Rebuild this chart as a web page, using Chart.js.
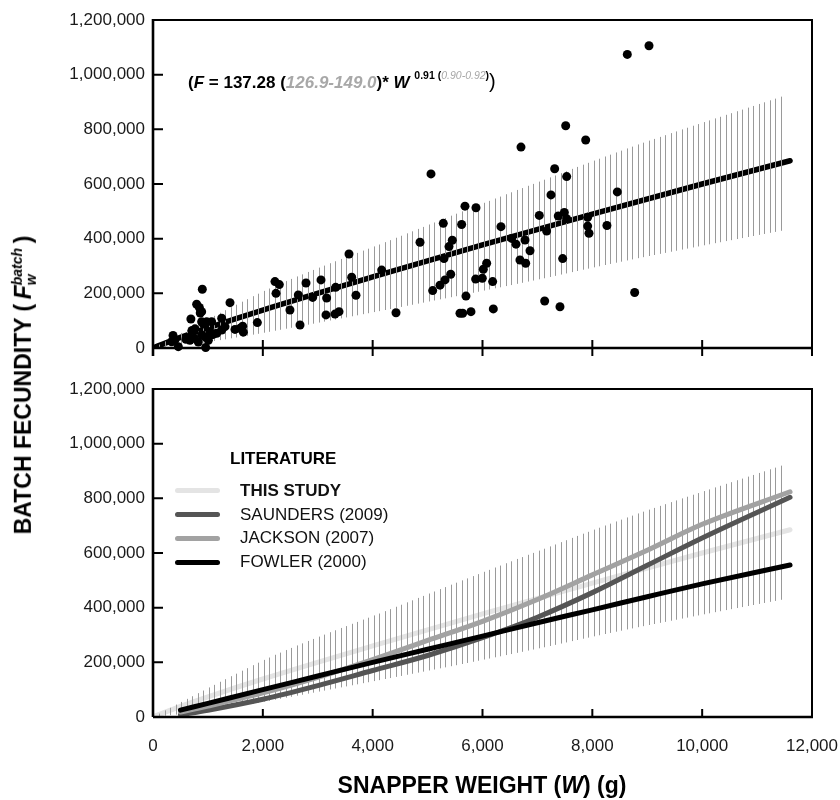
<!DOCTYPE html>
<html>
<head>
<meta charset="utf-8">
<script src="https://cdn.jsdelivr.net/npm/chart.js@4.4.1/dist/chart.umd.min.js"></script>
<style>
body { margin: 0; background: #fff; width: 840px; height: 800px; position: relative; overflow: hidden;
       font-family: 'Liberation Sans', Arial, sans-serif; color: #000; }
canvas { position: absolute; left: 0; }
#top { top: 0; }
#bottom { top: 362px; }
.txt { position: absolute; white-space: nowrap; }
#eq { left: 188px; top: 70px; font-weight: bold; font-size: 17px; line-height: 22px; }
#eq .ci { color: #a8a8a8; }
#eq .pw { font-size: 10.5px; position: relative; top: -9px; }
#eq .ci2 { color: #a8a8a8; font-weight: normal; }
#eq .cl { font-size: 20px; font-weight: normal; }
#ytitle { left: 24px; top: 385px; transform: translate(-50%, -50%) rotate(-90deg);
          font-weight: bold; font-size: 23px; line-height: 30px; }
#ytitle sub, #ytitle sup { font-size: 14px; }
#ytitle sup { margin-left: -11px; }
#xtitle { left: 282px; width: 400px; text-align: center; top: 772px;
          font-weight: bold; font-size: 23px; line-height: 26px; }
.lg { left: 240px; font-size: 17px; line-height: 20px; color: #111; }
.sw { position: absolute; left: 175px; width: 45px; height: 5px; border-radius: 3px; }
</style>
</head>
<body>
<canvas id="top" width="840" height="362"></canvas>
<canvas id="bottom" width="840" height="438"></canvas>

<div id="eq" class="txt">(<i>F</i> = 137.28 (<i class="ci">126.9-149.0</i>)* <i>W</i> <span class="pw">0.91 (<i class="ci2">0.90-0.92</i>)</span><span class="cl">)</span></div>
<div id="ytitle" class="txt">BATCH FECUNDITY (&#8201;<i>F</i><sub><i>w</i></sub><sup><i>batch</i></sup>&#8201;)</div>
<div id="xtitle" class="txt">SNAPPER WEIGHT (<i>W</i>) (g)</div>

<div class="txt" style="left:230px; top:449px; font-weight:bold; font-size:17px; line-height:20px;">LITERATURE</div>
<div class="sw" style="top:488px; background:#e4e4e4;"></div>
<div class="sw" style="top:512px; background:#555;"></div>
<div class="sw" style="top:536px; background:#a2a2a2;"></div>
<div class="sw" style="top:560px; background:#000;"></div>
<div class="txt lg" style="top:481px; font-weight:bold;">THIS STUDY</div>
<div class="txt lg" style="top:505px;">SAUNDERS (2009)</div>
<div class="txt lg" style="top:528px;">JACKSON (2007)</div>
<div class="txt lg" style="top:552px;">FOWLER (2000)</div>

<script>
// axis ticks
const xTicks = [0, 2000, 4000, 6000, 8000, 10000, 12000];
const yTicks = [0, 200000, 400000, 600000, 800000, 1000000, 1200000];

// individual fish: weight (g) and batch fecundity
const sampleWeight = [
    340, 365, 400, 461, 600, 640, 674, 690, 710, 752, 765, 795, 825, 844, 860, 886, 898, 886, 886, 917,
    947, 959, 977, 1008, 1040, 1068, 1068, 1098, 1160, 1251, 1251, 1311, 1402, 1493, 1584, 1645, 1633, 1900,
    2221, 2300, 2240, 2494, 2677, 2646, 2786, 2907, 3059, 3162, 3150, 3314, 3387, 3326, 3569, 3618, 3696,
    4164, 4425, 4862, 5062, 5093, 5226, 5317, 5421, 5299, 5286, 5450, 5390, 5590, 5639, 5790, 5681, 5699,
    5620, 5881, 5875, 5996, 6015, 6076, 6185, 6197, 6336, 6531, 6610, 6682, 6701, 6774, 6786, 6865, 7034,
    7132, 7168, 7247, 7314, 7380, 7411, 7460, 7490, 7515, 7532, 7533, 7879, 7915, 7915, 7939, 8266, 8455,
    8637, 8771, 9032
];
const sampleFecundity = [
    23000, 46000, 30000, 5000, 32000, 38000, 28000, 106000, 64000, 36000, 70000, 160000, 22000, 148000, 128000, 133000, 215000, 96000, 48000, 88000,
    41000, 2000, 96000, 28000, 60000, 96000, 48000, 50000, 54000, 66000, 109000, 78000, 166000, 68000, 72000, 58000, 80000, 93000,
    243000, 232000, 200000, 139000, 84000, 194000, 238000, 185000, 249000, 183000, 121000, 124000, 133000, 222000, 344000, 259000, 193000,
    285000, 129000, 387000, 637000, 210000, 230000, 249000, 270000, 327000, 456000, 394000, 371000, 127000, 127000, 133000, 519000, 190000,
    452000, 513000, 252000, 255000, 288000, 310000, 243000, 143000, 444000, 401000, 380000, 322000, 735000, 395000, 310000, 356000, 485000,
    172000, 428000, 560000, 656000, 483000, 151000, 327000, 496000, 813000, 473000, 627000, 761000, 478000, 446000, 420000, 448000, 571000,
    1074000, 203000, 1106000
];

// fitted relationship for this study and its interval
const studyWeight = [0, 500, 1000, 2000, 4000, 6000, 8000, 10000, 11600];
const studyFecundity = [0, 39000, 74000, 139000, 260000, 377000, 490000, 600000, 685000];
const bandWeight = [0, 1000, 2200, 4400, 6600, 8900, 11520];
const bandUpper = [0, 105000, 225000, 401000, 575000, 749000, 925000];
const bandLower = [0, 22000, 62000, 145000, 233000, 331000, 432000];

// published relationships
const litWeight = [500, 1000, 2000, 3000, 4000, 5000, 6000, 7000, 8000, 9000, 10000, 11600];
const saunders = [8000, 25000, 65000, 115000, 170000, 225000, 290000, 365000, 455000, 555000, 655000, 804000];
const jackson = [18000, 40000, 88000, 145000, 210000, 280000, 350000, 430000, 520000, 610000, 705000, 824000];
const fowler = [25000, 50000, 100000, 150000, 200000, 248000, 296000, 345000, 392000, 440000, 487000, 556000];

const pts = (xs, ys) => xs.map((x, i) => ({ x: x, y: ys[i] }));

Chart.defaults.font.family = "'Liberation Sans', Arial, sans-serif";
Chart.defaults.font.size = 17;
Chart.defaults.color = '#1a1a1a';

function hatch(canvasId) {
    const tile = document.createElement('canvas');
    tile.width = 11;
    tile.height = 4;
    const g = tile.getContext('2d');
    g.fillStyle = '#9a9a9a';
    g.fillRect(0, 0, 1, 4);
    g.fillRect(5, 0, 1, 4);
    return document.getElementById(canvasId).getContext('2d').createPattern(tile, 'repeat');
}

// frame with inward ticks
const framePlugin = {
    id: 'frame',
    afterDraw(chart, args, opts) {
        const { ctx, chartArea: a, scales: { x, y } } = chart;
        const below = opts.below || 0;
        ctx.save();
        ctx.strokeStyle = '#000';
        ctx.lineWidth = 2;
        ctx.beginPath();
        ctx.moveTo(a.left, a.top);
        ctx.lineTo(a.right, a.top);
        ctx.lineTo(a.right, a.bottom + below);
        ctx.stroke();
        ctx.lineWidth = 2.6;
        ctx.beginPath();
        ctx.moveTo(a.left, a.top - 1);
        ctx.lineTo(a.left, a.bottom + below);
        ctx.moveTo(a.left, a.bottom);
        ctx.lineTo(a.right + 1, a.bottom);
        ctx.stroke();
        ctx.lineWidth = 2;
        ctx.beginPath();
        yTicks.slice(1, -1).forEach(v => {
            const py = y.getPixelForValue(v);
            ctx.moveTo(a.left, py);
            ctx.lineTo(a.left + 10, py);
        });
        xTicks.slice(1, -1).forEach(v => {
            const px = x.getPixelForValue(v);
            ctx.moveTo(px, a.bottom - 8);
            ctx.lineTo(px, a.bottom + below);
        });
        ctx.stroke();
        ctx.restore();
    }
};

function scales(showX, xHeight) {
    return {
        x: {
            type: 'linear', min: 0, max: 12000,
            grid: { display: false, drawTicks: false },
            border: { display: false },
            afterBuildTicks: s => { s.ticks = xTicks.map(v => ({ value: v })); },
            ticks: { display: showX, padding: 19, maxRotation: 0, autoSkip: false,
                     callback: v => v.toLocaleString('en-US') },
            afterFit: s => { s.height = xHeight; s.paddingLeft = 0; s.paddingRight = 0; }
        },
        y: {
            min: 0, max: 1200000,
            grid: { display: false, drawTicks: false },
            border: { display: false },
            afterBuildTicks: s => { s.ticks = yTicks.map(v => ({ value: v })); },
            ticks: { padding: 8, callback: v => v.toLocaleString('en-US') },
            afterFit: s => { s.width = 153; s.paddingTop = 0; s.paddingBottom = 0; }
        }
    };
}

function bandSets(pattern) {
    return [{
        data: pts(bandWeight, bandUpper), borderWidth: 0, pointRadius: 0,
        fill: '+1', backgroundColor: pattern, order: 1, cubicInterpolationMode: 'monotone'
    }, {
        data: pts(bandWeight, bandLower), borderWidth: 0, pointRadius: 0,
        fill: false, order: 1, cubicInterpolationMode: 'monotone'
    }];
}

const common = {
    responsive: false,
    animation: false,
    events: [],
    plugins: { legend: { display: false }, tooltip: { enabled: false } }
};

// ---- upper panel: observations and fitted curve
new Chart(document.getElementById('top'), {
    type: 'line',
    data: {
        datasets: [{
            data: pts(sampleWeight, sampleFecundity), showLine: false,
            pointRadius: 4.5, pointBackgroundColor: '#000', pointBorderWidth: 0,
            order: 0, clip: false
        }, ...bandSets(hatch('top')), {
            data: pts(studyWeight, studyFecundity), borderColor: '#000', borderWidth: 5.5,
            borderCapStyle: 'round', pointRadius: 0, order: 2, cubicInterpolationMode: 'monotone'
        }]
    },
    options: {
        ...common,
        layout: { padding: { top: 20, right: 28, left: 0, bottom: 0 } },
        scales: scales(false, 14),
        plugins: { ...common.plugins, frame: { below: 8 } }
    },
    plugins: [framePlugin]
});

// ---- lower panel: comparison with literature
const litLine = (ys, color) => ({
    data: pts(litWeight, ys), borderColor: color, borderWidth: 5, borderCapStyle: 'round',
    pointRadius: 0, order: 0, cubicInterpolationMode: 'monotone'
});

new Chart(document.getElementById('bottom'), {
    type: 'line',
    data: {
        datasets: [
            litLine(fowler, '#000'),
            litLine(jackson, '#a2a2a2'),
            litLine(saunders, '#555'),
            ...bandSets(hatch('bottom')),
            {
                data: pts(studyWeight, studyFecundity), borderColor: '#e4e4e4', borderWidth: 5,
                borderCapStyle: 'round', pointRadius: 0, order: 2, cubicInterpolationMode: 'monotone'
            }
        ]
    },
    options: {
        ...common,
        layout: { padding: { top: 27, right: 28, left: 0, bottom: 0 } },
        scales: scales(true, 83),
        plugins: { ...common.plugins, frame: { below: 0 } }
    },
    plugins: [framePlugin]
});
</script>
</body>
</html>
